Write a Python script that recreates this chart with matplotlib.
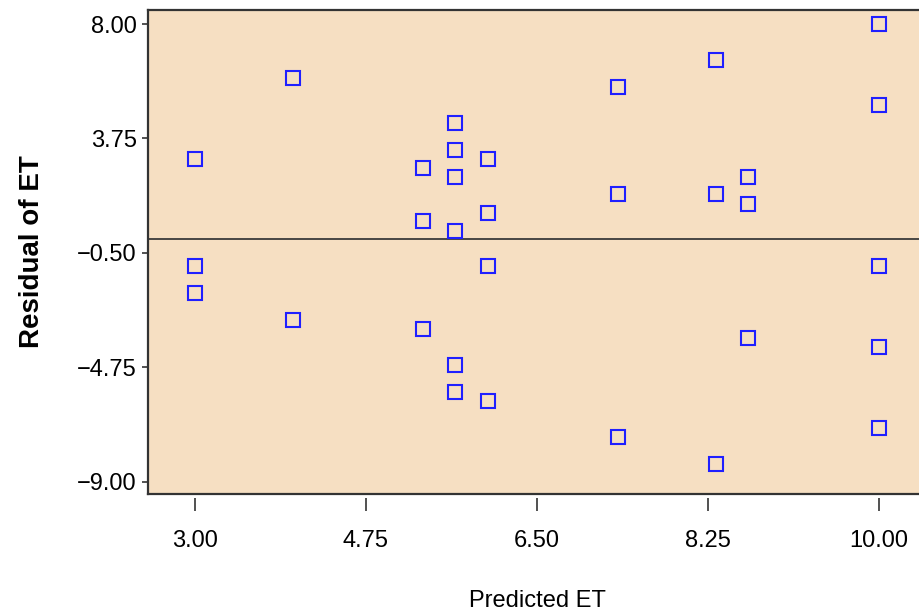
import numpy as np
import matplotlib.pyplot as plt
from matplotlib.lines import Line2D

plt.rcParams['font.family'] = ['Liberation Sans', 'DejaVu Sans']

# predicted ET and residuals
predicted = [3.00, 3.00, 3.00, 4.00, 4.00,
             5.33, 5.33, 5.33,
             5.66, 5.66, 5.66, 5.66, 5.66, 5.66,
             6.00, 6.00, 6.00, 6.00,
             7.33, 7.33, 7.33,
             8.33, 8.33, 8.33,
             8.66, 8.66, 8.66,
             10.00, 10.00, 10.00, 10.00, 10.00]
residual = [3.00, -1.00, -2.00, 6.00, -3.00,
            2.67, 0.67, -3.33,
            4.33, 3.33, 2.33, 0.33, -4.67, -5.67,
            3.00, 1.00, -1.00, -6.00,
            5.67, 1.67, -7.33,
            6.67, 1.67, -8.33,
            2.33, 1.33, -3.67,
            8.00, 5.00, -1.00, -4.00, -7.00]

xticks = [3.00, 4.75, 6.50, 8.25, 10.00]
xticklabels = ['3.00', '4.75', '6.50', '8.25', '10.00']
yticks = [-9.00, -4.75, -0.50, 3.75, 8.00]
yticklabels = ['\u22129.00', '\u22124.75', '\u22120.50', '3.75', '8.00']

fig = plt.figure(figsize=(9.2, 6.15), dpi=100)
ax = fig.add_axes([148 / 920, 121 / 615, 778 / 920, 484 / 615])
ax.set_facecolor('#f6dfc2')

# zero reference line
ax.axhline(0, color='#3a3a3a', lw=1.3, zorder=1)

ax.plot(predicted, residual, linestyle='none', marker='s', markersize=10.5,
        markerfacecolor='none', markeredgecolor='#1f1fff', markeredgewidth=1.5,
        zorder=3)

ax.set_xlim(2.52, 10.48)
ax.set_ylim(-9.45, 8.52)

ax.set_xticks(xticks)
ax.set_xticklabels(xticklabels)
ax.set_yticks(yticks)
ax.set_yticklabels(yticklabels)

for s in ['left', 'top']:
    ax.spines[s].set_color('#333333')
    ax.spines[s].set_linewidth(1.6)
ax.spines['right'].set_visible(False)
# x ticks sit a little below the frame
ax.spines['bottom'].set_position(('outward', 3))
ax.spines['bottom'].set_color('none')
ax.add_line(Line2D([0, 1], [0, 0], transform=ax.transAxes, color='#333333',
                   lw=1.6, clip_on=False, zorder=4))

ax.tick_params(axis='y', direction='out', length=4.5, width=1.2, color='#333333',
               pad=3.5, labelsize=17)
ax.tick_params(axis='x', direction='out', length=9, width=1.2, color='#333333',
               pad=14, labelsize=17)

ax.set_xlabel('Predicted ET', fontsize=17, labelpad=27)
ax.set_ylabel('Residual of ET', fontsize=20, fontweight='bold', labelpad=23)

fig.savefig('out.png', dpi=100)
